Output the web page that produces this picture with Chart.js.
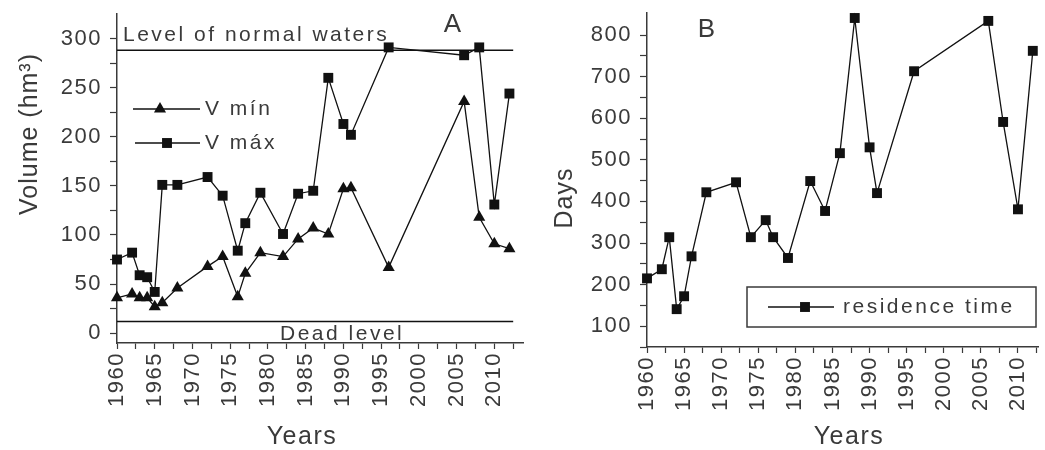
<!DOCTYPE html>
<html>
<head>
<meta charset="utf-8">
<script src="https://cdn.jsdelivr.net/npm/chart.js@4.4.0/dist/chart.umd.min.js"></script>
<style>
  html, body { margin: 0; padding: 0; background: #fff; }
  #wrap { position: relative; width: 1045px; height: 450px; overflow: hidden; }
  #left { position: absolute; left: 0; top: 0; }
  #right { position: absolute; left: 530px; top: 0; }
</style>
</head>
<body>
<div id="wrap">
  <canvas id="left" width="530" height="450"></canvas>
  <canvas id="right" width="515" height="450"></canvas>
</div>
<script>
// sampling years (same for both panels)
const years = [1960, 1962, 1963, 1964, 1965, 1966, 1968, 1972, 1974, 1976, 1977, 1979,
               1982, 1984, 1986, 1988, 1990, 1991, 1996, 2006, 2008, 2010, 2012];
// panel A, volumes in hm3
const vMin = [36, 40, 36, 36, 27, 31, 46, 68, 78, 37, 61, 82, 78, 96, 107, 101, 147, 148, 67, 236, 118, 91, 86];
const vMax = [75, 82, 59, 57, 42, 151, 151, 159, 140, 84, 112, 143, 101, 142, 145, 260, 213, 202, 291, 283, 291, 131, 244];
const normalLevel = 288;
const deadLevel = 12;
// panel B, days
const residence = [215, 237, 314, 141, 172, 268, 422, 446, 314, 355, 314, 264, 449, 377, 516, 841, 530, 420, 713, 834, 591, 381, 762];

const yearTicks = [1960, 1962.5, 1965, 1967.5, 1970, 1972.5, 1975, 1977.5, 1980, 1982.5, 1985, 1987.5,
                   1990, 1992.5, 1995, 1997.5, 2000, 2002.5, 2005, 2007.5, 2010, 2012.5];
const volumeTicks = [0, 25, 50, 75, 100, 125, 150, 175, 200, 225, 250, 275, 300];
const daysTicks = [50, 100, 150, 200, 250, 300, 350, 400, 450, 500, 550, 600, 650, 700, 750, 800];

const INK = '#111';
const GREY = '#3a3a3a';
const FONT = "'Liberation Sans', Arial, sans-serif";

const pts = vals => years.map((y, i) => ({ x: y, y: vals[i] }));

function noPad(s) {
  s.paddingLeft = 0; s.paddingRight = 0; s.paddingTop = 0; s.paddingBottom = 0;
}

function xScale(max, height) {
  return {
    type: 'linear', min: 1960, max: max,
    afterBuildTicks: s => { s.ticks = yearTicks.map(v => ({ value: v })); },
    afterFit: s => { s.height = height; noPad(s); },
    ticks: {
      autoSkip: false, minRotation: 90, maxRotation: 90, padding: 3,
      color: GREY, font: { family: FONT, size: 22 },
      callback: v => (v % 5 === 0 ? String(v) : '')
    },
    grid: { drawOnChartArea: false, drawTicks: true, tickLength: 6, tickColor: GREY, tickWidth: 1.2 },
    border: { display: true, color: GREY, width: 1.5 }
  };
}

function yScale(min, max, tickVals, every) {
  return {
    type: 'linear', min: min, max: max,
    afterBuildTicks: s => { s.ticks = tickVals.map(v => ({ value: v })); },
    afterFit: s => { s.width = 117; noPad(s); },
    ticks: {
      autoSkip: false, padding: 8,
      color: GREY, font: { family: FONT, size: 22 },
      callback: v => (v % every === 0 ? String(v) : '')
    },
    grid: { drawOnChartArea: false, drawTicks: true, tickLength: 7, tickColor: GREY, tickWidth: 1.2 },
    border: { display: true, color: GREY, width: 1.5 }
  };
}

function series(label, vals, style) {
  return {
    label: label, data: pts(vals),
    borderColor: INK, backgroundColor: INK, borderWidth: 1.3,
    pointStyle: style, pointRadius: 7, pointBorderWidth: 0, pointHoverRadius: 7,
    tension: 0, clip: false
  };
}

function refLine(level) {
  return {
    label: '', data: [{ x: 1960, y: level }, { x: 2012.5, y: level }],
    borderColor: INK, borderWidth: 1.5, pointRadius: 0
  };
}

function txt(ctx, s, x, y, size, align, rot, spacing) {
  ctx.save();
  ctx.font = size + 'px ' + FONT;
  ctx.fillStyle = GREY;
  ctx.letterSpacing = (spacing || 1) + 'px';
  ctx.textAlign = align || 'left';
  ctx.textBaseline = 'middle';
  ctx.translate(x, y);
  if (rot) ctx.rotate(rot);
  ctx.fillText(s, 0, 0);
  ctx.restore();
}

function legendRow(ctx, ds, x1, x2, xm, y, tx) {
  ctx.save();
  ctx.strokeStyle = INK; ctx.fillStyle = INK; ctx.lineWidth = 1.3;
  ctx.beginPath(); ctx.moveTo(x1, y); ctx.lineTo(x2, y); ctx.stroke();
  Chart.helpers.drawPoint(ctx, { pointStyle: ds.pointStyle, radius: 7, rotation: 0, borderWidth: 0 }, xm, y);
  ctx.restore();
  txt(ctx, ds.label, tx, y, 21, 'left', 0, 2.5);
}

// spaced-out digits like the original figure
const spacing = {
  id: 'spacing',
  beforeLayout(chart) { chart.ctx.letterSpacing = '1.5px'; },
  beforeDraw(chart) { chart.ctx.letterSpacing = '1.5px'; }
};

const annotA = {
  id: 'annotA',
  afterDraw(chart) {
    const ctx = chart.ctx;
    const y = chart.scales.y;
    txt(ctx, 'Level of normal waters', 123, y.getPixelForValue(normalLevel) - 15, 21, 'left', 0, 2.5);
    txt(ctx, 'Dead level', 280, y.getPixelForValue(deadLevel) + 13, 21, 'left', 0, 2.5);
    txt(ctx, 'A', 453, 25, 26, 'center');
    txt(ctx, 'Volume (hm\u00B3)', 30, 134, 25, 'center', -Math.PI / 2);
    txt(ctx, 'Years', 302, 437, 25, 'center', 0, 1.5);
    const d = chart.data.datasets;
    legendRow(ctx, d[0], 133, 200, 160, 109, 205);
    legendRow(ctx, d[1], 135, 200, 167, 143, 205);
  }
};

const annotB = {
  id: 'annotB',
  afterDraw(chart) {
    const ctx = chart.ctx;
    txt(ctx, 'B', 177, 30, 26, 'center');
    txt(ctx, 'Days', 35, 198, 25, 'center', -Math.PI / 2);
    txt(ctx, 'Years', 319, 437, 25, 'center', 0, 1.5);
    ctx.save();
    ctx.strokeStyle = GREY; ctx.lineWidth = 1.5;
    ctx.strokeRect(217, 287, 289, 40);
    ctx.restore();
    legendRow(ctx, chart.data.datasets[0], 238, 304, 275, 307, 313);
  }
};

new Chart(document.getElementById('left'), {
  type: 'line',
  data: {
    datasets: [
      series('V m\u00EDn', vMin, 'triangle'),
      series('V m\u00E1x', vMax, 'rect'),
      refLine(normalLevel),
      refLine(deadLevel)
    ]
  },
  options: {
    responsive: false, animation: false, events: [],
    layout: { padding: { top: 14, right: 7, left: 0, bottom: 0 } },
    plugins: { legend: { display: false }, tooltip: { enabled: false } },
    scales: { x: xScale(2013.8, 107), y: yScale(-10, 325, volumeTicks, 50) }
  },
  plugins: [spacing, annotA]
});

new Chart(document.getElementById('right'), {
  type: 'line',
  data: { datasets: [series('residence time', residence, 'rect')] },
  options: {
    responsive: false, animation: false, events: [],
    layout: { padding: { top: 13, right: 1, left: 0, bottom: 0 } },
    plugins: { legend: { display: false }, tooltip: { enabled: false } },
    scales: { x: xScale(2012.7, 103), y: yScale(50, 853, daysTicks, 100) }
  },
  plugins: [spacing, annotB]
});
</script>
</body>
</html>
